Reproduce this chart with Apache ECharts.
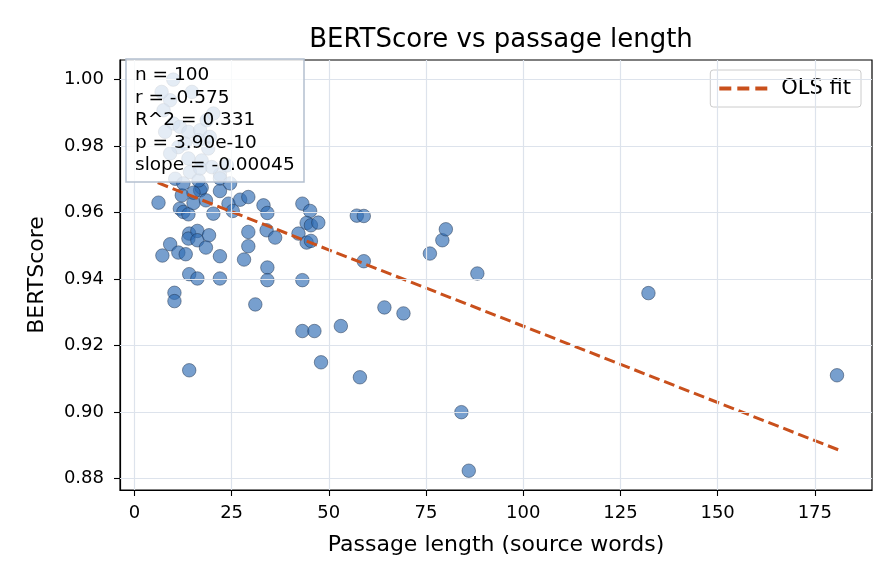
<!DOCTYPE html>
<html>
<head>
<meta charset="utf-8">
<script src="https://cdn.jsdelivr.net/npm/echarts@6/dist/echarts.min.js"></script>
<style>html,body{margin:0;padding:0;background:#fff}#c{width:896px;height:584px}</style>
</head>
<body>
<div id="c"></div>
<script>
const passageLength = [6.2,7.2,9.2,10.3,10.3,11.3,13.2,14.1,14.1,14.1,13.9,16.2,16.2,19.2,18.4,16.2,22.0,22.0,11.7,12.6,13.9,12.2,15.2,16.9,18.4,20.3,22.0,24.2,25.3,27.2,29.3,33.2,34.2,29.3,29.3,28.2,34.0,36.2,34.2,34.2,31.1,43.2,45.2,44.3,45.4,47.3,42.2,44.3,45.4,43.2,43.2,46.3,48.0,53.1,57.2,59.0,59.0,58.0,64.3,69.2,76.0,79.2,80.1,88.2,84.1,86.0,132.2,180.7,17.3,10.5,14.3,22.0,15.2,10.0,9.2,7.5,14.8,10.0,11.7,13.9,16.9,19.4,16.5,11.3,13.0,19.0,13.9,17.3,19.9,12.6,16.5,9.2,7.9,23.8,16.9,22.0,24.6,7.0,18.6,20.3];
const bertScore = [0.9630,0.9471,0.9505,0.9359,0.9334,0.9480,0.9475,0.9126,0.9415,0.9537,0.9522,0.9545,0.9517,0.9532,0.9495,0.9402,0.9402,0.9469,0.9612,0.9602,0.9595,0.9652,0.9629,0.9667,0.9637,0.9597,0.9665,0.9627,0.9605,0.9639,0.9647,0.9622,0.9599,0.9542,0.9499,0.9459,0.9547,0.9525,0.9435,0.9397,0.9324,0.9627,0.9605,0.9569,0.9562,0.9570,0.9537,0.9510,0.9515,0.9397,0.9244,0.9244,0.9150,0.9259,0.9591,0.9590,0.9454,0.9105,0.9315,0.9297,0.9477,0.9517,0.9550,0.9417,0.9000,0.8824,0.9358,0.9111,0.9675,0.9702,0.9722,0.9715,0.9660,1.0000,0.9938,0.9908,0.9963,0.9868,0.9858,0.9843,0.9848,0.9828,0.9818,0.9797,0.9808,0.9793,0.9763,0.9757,0.9737,0.9688,0.9697,0.9778,0.9843,0.9742,0.9733,0.9703,0.9688,0.9963,0.9878,0.9898];
const fitX = [6, 181];
const fitY = [0.9690, 0.8887];
const xTicks = [0,25,50,75,100,125,150,175];
const yTicks = [0.88,0.90,0.92,0.94,0.96,0.98,1.00];
const statsLines = ['n = 100','r = -0.575','R^2 = 0.331','p = 3.90e-10','slope = -0.00045'];

const FONT = 'DejaVu Sans';
const FIT_COLOR = '#c9501c';
const chart = echarts.init(document.getElementById('c'), null, {renderer:'canvas'});
const points = passageLength.map((x,i)=>[x, bertScore[i]]);
const fitLine = fitX.map((x,i)=>[x, fitY[i]]);
const axisCommon = {
  axisLine:{show:true, onZero:false, lineStyle:{color:'#000', width:1.2}},
  axisTick:{show:true, inside:false, length:6, lineStyle:{color:'#000', width:1.1}},
  splitLine:{show:false}
};
chart.setOption({
  animation:false,
  backgroundColor:'#fff',
  title:[
    {text:'BERTScore vs passage length', left:496, top:22, textAlign:'center',
     textStyle:{fontFamily:FONT, fontSize:26, fontWeight:'normal', color:'#000'}},
    {text: statsLines.join('\n'), left:126, top:59, padding:[5,10,6,9],
     backgroundColor:'rgba(255,255,255,0.8)', borderColor:'#b4c0cf', borderWidth:1.5, borderRadius:0,
     textStyle:{fontFamily:FONT, fontSize:18.5, fontWeight:'normal', color:'#000', lineHeight:22.5}, z:10}
  ],
  legend:{
    data:[{name:'OLS fit', icon:'path://M0,0h12v4h-12z M18,0h12v4h-12z M36,0h12v4h-12z'}],
    right:35, top:70, orient:'vertical',
    backgroundColor:'rgba(255,255,255,0.85)', borderColor:'#cccccc', borderWidth:1, borderRadius:3,
    padding:[8,10,8,9], itemWidth:48, itemHeight:4, itemGap:10,
    textStyle:{fontFamily:FONT, fontSize:21, color:'#000', padding:[0,0,0,9]}
  },
  grid:{left:120, right:24, top:60, bottom:94, show:true, borderColor:'#000', borderWidth:1.2, backgroundColor:'#fff'},
  xAxis:Object.assign({}, axisCommon, {
    type:'value', min:-3.7, max:189.7,
    axisTick:Object.assign({}, axisCommon.axisTick, {customValues:xTicks}),
    axisLabel:{customValues:xTicks, fontFamily:FONT, fontSize:18, color:'#000', margin:14},
    name:'Passage length (source words)', nameLocation:'middle', nameGap:44,
    nameTextStyle:{fontFamily:FONT, fontSize:22, color:'#000'}
  }),
  yAxis:Object.assign({}, axisCommon, {
    type:'value', min:0.8766, max:1.0059,
    axisTick:Object.assign({}, axisCommon.axisTick, {customValues:yTicks}),
    axisLabel:{customValues:yTicks, formatter:v=>v.toFixed(2), fontFamily:FONT, fontSize:18, color:'#000', margin:16},
    name:'BERTScore', nameLocation:'middle', nameGap:72, nameRotate:90,
    nameTextStyle:{fontFamily:FONT, fontSize:22, color:'#000'}
  }),
  series:[
    {type:'scatter', name:'grid', data:[], z:1, silent:true,
     markLine:{silent:true, symbol:['none','none'], label:{show:false}, animation:false,
       lineStyle:{color:'#dde3ec', width:1.2, type:'solid'},
       data: xTicks.map(v=>({xAxis:v})).concat(yTicks.map(v=>({yAxis:v})))}},
    {type:'scatter', name:'points', data:points, symbolSize:13.5, z:3,
     itemStyle:{color:'rgba(47,108,180,0.82)', borderColor:'#1b2f4a', borderWidth:0.6}},
    {type:'line', name:'OLS fit', data:fitLine, symbol:'none', z:4,
     itemStyle:{color:FIT_COLOR},
     lineStyle:{color:FIT_COLOR, width:3, type:[11,5]}}
  ]
});
</script>
</body>
</html>
